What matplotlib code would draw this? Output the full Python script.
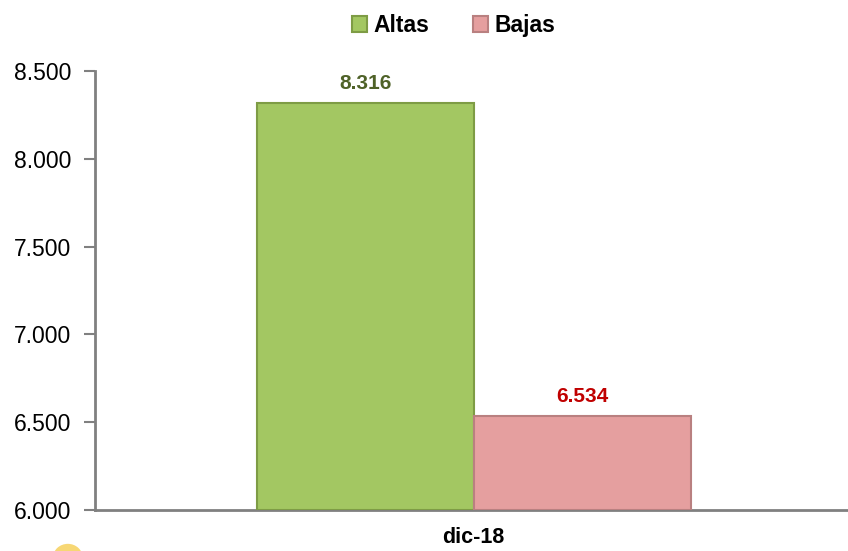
import matplotlib.pyplot as plt
import numpy as np
from matplotlib.patches import Ellipse

plt.rcParams['font.family'] = ['Liberation Sans', 'DejaVu Sans']

# Data
categories = ['dic-18']
series = ['Altas', 'Bajas']
values = [8316, 6534]
labels = ['8.316', '6.534']
yticks = [6000, 6500, 7000, 7500, 8000, 8500]
ytick_labels = ['6.000', '6.500', '7.000', '7.500', '8.000', '8.500']

face_colors = ['#A3C762', '#E59F9F']
edge_colors = ['#7E9C45', '#B98080']
text_colors = ['#4F6228', '#C00000']

fig = plt.figure(figsize=(8.48, 5.51), dpi=100)
ax = fig.add_axes([0.112, 0.0744, 0.888, 0.7967])

width = 0.288
offsets = [-width / 2, width / 2]
x = np.arange(len(categories))
for i, name in enumerate(series):
    bars = ax.bar(x + offsets[i], values[i] - 6000, width, bottom=6000,
                  color=face_colors[i], edgecolor=edge_colors[i], linewidth=1.5,
                  label=name, zorder=3)
    for b in bars:
        ax.text(b.get_x() + b.get_width() / 2, values[i] + 60, labels[i],
                ha='center', va='bottom', fontsize=15, fontweight='bold',
                color=text_colors[i])

ax.set_xlim(-0.503, 0.497)
ax.set_ylim(6000, 8500)
ax.set_yticks(yticks)
ax.set_yticklabels(ytick_labels, fontsize=16.5)
ax.set_xticks(x)
ax.set_xticklabels(categories, fontsize=15.5, fontweight='bold')
ax.tick_params(axis='x', length=0, pad=12)
ax.tick_params(axis='y', length=8, width=1.5, color='#808080', pad=9, direction='out')

for s in ['top', 'right']:
    ax.spines[s].set_visible(False)
for s in ['left', 'bottom']:
    ax.spines[s].set_color('#808080')
    ax.spines[s].set_linewidth(2)

fig.legend(loc='upper center', bbox_to_anchor=(0.535, 1.012), ncol=2, frameon=False,
           prop={'size': 16.5, 'weight': 'bold'}, handlelength=0.65, handleheight=0.65,
           handletextpad=0.3, columnspacing=1.9)

# decorative logo fragment bottom-left
fig.patches.append(Ellipse((0.08, -0.012), 0.035, 0.05, transform=fig.transFigure,
                           facecolor='#F7D774', edgecolor='none', figure=fig))

fig.savefig('out.png', dpi=100)
